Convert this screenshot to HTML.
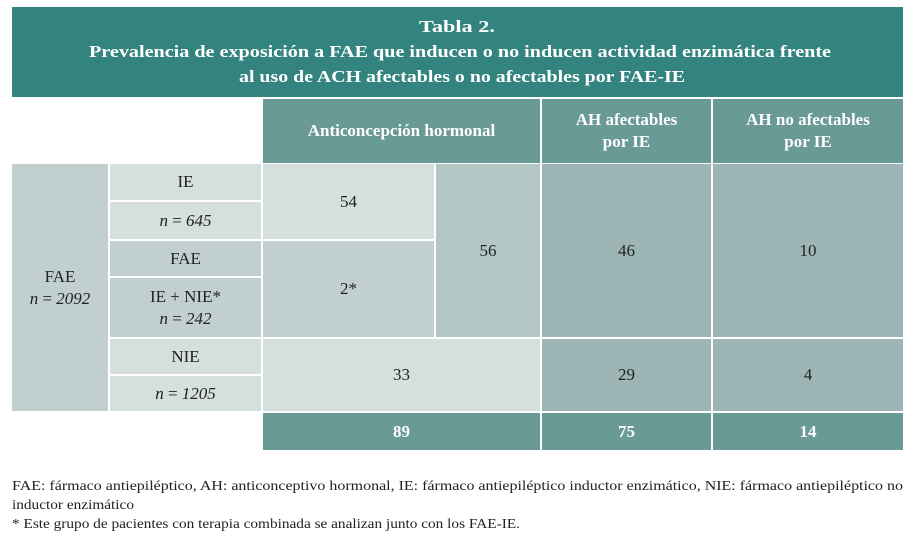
<!DOCTYPE html>
<html><head><meta charset="utf-8"><style>
body{margin:0;width:915px;height:541px;background:#fff;position:relative;overflow:hidden;font-family:"Liberation Serif",serif;}
.c{position:absolute;display:flex;flex-direction:column;align-items:center;justify-content:center;text-align:center;color:#222;font-size:17px;line-height:22px;box-sizing:border-box}
.h{background:#6a9a96;color:#fff;font-weight:bold;font-size:17px}
.l{background:#d4dfde}.m{background:#c1d0cf}.k{background:#b2c6c4}.d{background:#9db6b5}
i{font-style:italic}
</style></head><body>
<svg style="position:absolute;left:0;top:0" width="915" height="100">
<rect x="12" y="7" width="891" height="90" fill="#33847f"/>
<g fill="#fff" font-family="Liberation Serif, serif" font-weight="bold" font-size="17" text-anchor="middle">
<text x="457" y="32" textLength="76" lengthAdjust="spacingAndGlyphs">Tabla 2.</text>
<text x="460" y="57" textLength="742" lengthAdjust="spacingAndGlyphs">Prevalencia de exposición a FAE que inducen o no inducen actividad enzimática frente</text>
<text x="462" y="82" textLength="446" lengthAdjust="spacingAndGlyphs">al uso de ACH afectables o no afectables por FAE-IE</text>
</g></svg>

<div class="c h" style="left:263px;top:99px;width:277px;height:64px"><div>Anticoncepción hormonal</div></div>
<div class="c h" style="left:542px;top:99px;width:169px;height:64px"><div>AH afectables</div><div>por IE</div></div>
<div class="c h" style="left:713px;top:99px;width:190px;height:64px"><div>AH no afectables</div><div>por IE</div></div>

<div class="c m" style="left:12px;top:164px;width:96px;height:247px"><div>FAE</div><div><i>n</i> = <i>2092</i></div></div>

<div class="c l" style="left:110px;top:164px;width:151px;height:36px"><div>IE</div></div>
<div class="c l" style="left:110px;top:202px;width:151px;height:37px"><div><i>n</i> = <i>645</i></div></div>
<div class="c m" style="left:110px;top:241px;width:151px;height:35px"><div>FAE</div></div>
<div class="c m" style="left:110px;top:278px;width:151px;height:59px"><div>IE + NIE*</div><div><i>n</i> = <i>242</i></div></div>
<div class="c l" style="left:110px;top:339px;width:151px;height:35px"><div>NIE</div></div>
<div class="c l" style="left:110px;top:376px;width:151px;height:35px"><div><i>n</i> = <i>1205</i></div></div>

<div class="c l" style="left:263px;top:164px;width:171px;height:75px"><div>54</div></div>
<div class="c m" style="left:263px;top:241px;width:171px;height:96px"><div>2*</div></div>
<div class="c k" style="left:436px;top:164px;width:104px;height:173px"><div>56</div></div>
<div class="c d" style="left:542px;top:164px;width:169px;height:173px"><div>46</div></div>
<div class="c d" style="left:713px;top:164px;width:190px;height:173px"><div>10</div></div>

<div class="c l" style="left:263px;top:339px;width:277px;height:72px"><div>33</div></div>
<div class="c d" style="left:542px;top:339px;width:169px;height:72px"><div>29</div></div>
<div class="c d" style="left:713px;top:339px;width:190px;height:72px"><div>4</div></div>

<div class="c h" style="left:263px;top:413px;width:277px;height:37px"><div>89</div></div>
<div class="c h" style="left:542px;top:413px;width:169px;height:37px"><div>75</div></div>
<div class="c h" style="left:713px;top:413px;width:190px;height:37px"><div>14</div></div>

<svg style="position:absolute;left:0;top:470px" width="915" height="71">
<g font-family="Liberation Serif, serif" font-size="14" fill="#222">
<text x="12" y="20" textLength="891" lengthAdjust="spacingAndGlyphs">FAE: fármaco antiepiléptico, AH: anticonceptivo hormonal, IE: fármaco antiepiléptico inductor enzimático, NIE: fármaco antiepiléptico no</text>
<text x="12" y="39" textLength="122" lengthAdjust="spacingAndGlyphs">inductor enzimático</text>
<text x="12" y="58" textLength="508" lengthAdjust="spacingAndGlyphs">* Este grupo de pacientes con terapia combinada se analizan junto con los FAE-IE.</text>
</g></svg>
</body></html>
